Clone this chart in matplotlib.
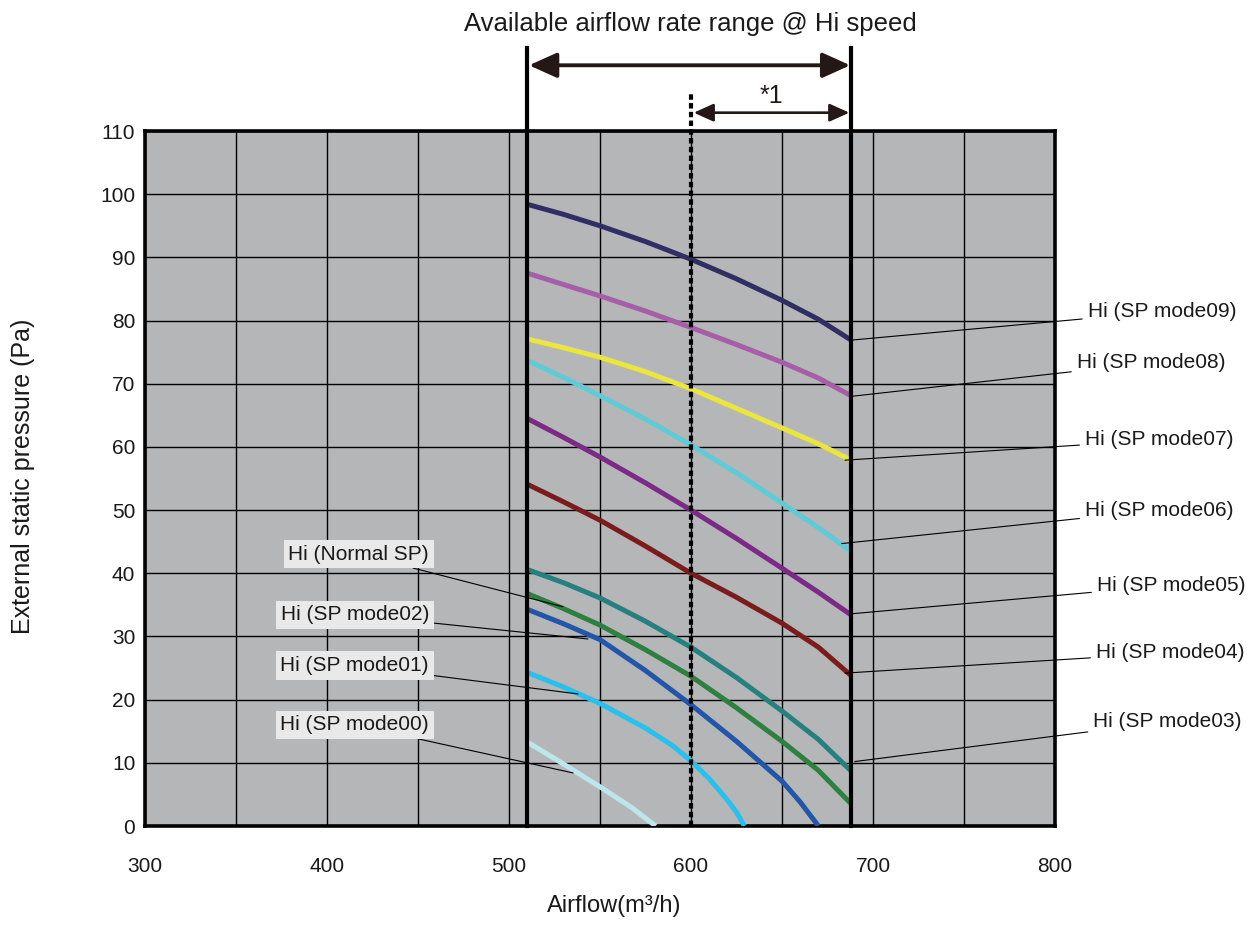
import matplotlib
matplotlib.use("Agg")
import matplotlib.pyplot as plt
from matplotlib.patches import FancyArrowPatch

plt.rcParams['font.family'] = ['Liberation Sans', 'DejaVu Sans']

# ---------------- data ----------------
x_ticks = [300, 400, 500, 600, 700, 800]
y_ticks = [0, 10, 20, 30, 40, 50, 60, 70, 80, 90, 100, 110]

range_min = 510
range_max = 688
range_mid = 600

x_full = [510, 530, 550, 575, 600, 625, 650, 670, 688]

y_mode09 = [98.4, 96.8, 95.0, 92.5, 89.7, 86.6, 83.2, 80.2, 76.9]
y_mode08 = [87.5, 85.7, 83.9, 81.5, 78.9, 76.2, 73.4, 70.9, 68.1]
y_mode07 = [77.1, 75.7, 74.2, 71.9, 69.2, 66.1, 63.0, 60.5, 57.9]
y_mode06 = [73.7, 71.0, 68.1, 64.4, 60.3, 55.9, 51.1, 47.2, 43.5]
y_mode05 = [64.5, 61.5, 58.4, 54.3, 50.0, 45.5, 40.8, 37.0, 33.4]
y_mode04 = [54.1, 51.3, 48.4, 44.3, 40.0, 36.2, 32.1, 28.3, 23.8]
y_mode03 = [40.6, 38.5, 36.1, 32.4, 28.3, 23.5, 18.2, 13.7, 8.7]
y_normal = [36.8, 34.4, 31.8, 27.9, 23.7, 18.7, 13.4, 8.8, 3.5]

x_mode02 = [510, 530, 550, 575, 600, 625, 650, 660, 670]
y_mode02 = [34.3, 32.0, 29.5, 24.6, 19.2, 13.4, 7.1, 3.8, 0.0]

x_mode01 = [510, 530, 550, 575, 590, 600, 610, 620, 625, 629.3]
y_mode01 = [24.3, 22.0, 19.4, 15.5, 12.7, 10.3, 7.5, 4.1, 2.2, 0.0]

x_mode00 = [510, 530, 550, 567, 580.6]
y_mode00 = [13.3, 9.8, 6.2, 3.0, 0.0]

series = [
    ("Hi (SP mode09)", x_full, y_mode09, "#2f2f63"),
    ("Hi (SP mode08)", x_full, y_mode08, "#a65ea8"),
    ("Hi (SP mode07)", x_full, y_mode07, "#ebe540"),
    ("Hi (SP mode06)", x_full, y_mode06, "#5ecbd6"),
    ("Hi (SP mode05)", x_full, y_mode05, "#7b2a85"),
    ("Hi (SP mode04)", x_full, y_mode04, "#7a1c1c"),
    ("Hi (SP mode03)", x_full, y_mode03, "#268080"),
    ("Hi (Normal SP)", x_full, y_normal, "#2e8040"),
    ("Hi (SP mode02)", x_mode02, y_mode02, "#2256a8"),
    ("Hi (SP mode01)", x_mode01, y_mode01, "#28c0ec"),
    ("Hi (SP mode00)", x_mode00, y_mode00, "#bde6ec"),
]

# label anchor (point on curve) and text position
right_labels = {
    "Hi (SP mode09)": ((688, 76.9), (818, 81.4)),
    "Hi (SP mode08)": ((688, 68.0), (812, 73.3)),
    "Hi (SP mode07)": ((684.6, 57.9), (816.5, 61.1)),
    "Hi (SP mode06)": ((682.8, 44.7), (816.5, 50.0)),
    "Hi (SP mode05)": ((688.6, 33.6), (823, 38.1)),
    "Hi (SP mode04)": ((684.6, 24.2), (822.5, 27.4)),
    "Hi (SP mode03)": ((690, 10.2), (821, 16.5)),
}
left_labels = {
    "Hi (Normal SP)": ((529.7, 34.7), (456, 43.05)),
    "Hi (SP mode02)": ((543.4, 29.6), (456, 33.4)),
    "Hi (SP mode01)": ((537.9, 20.9), (456, 25.4)),
    "Hi (SP mode00)": ((535.2, 8.4), (456, 16.0)),
}

# ---------------- figure ----------------
fig = plt.figure(figsize=(12.47, 9.43), dpi=100)
ax = fig.add_axes([145/1247, 1-826/943, 910/1247, 695/943])
ax.set_facecolor("#b5b6b8")
ax.set_xlim(300, 800)
ax.set_ylim(0, 110)

ax.grid(True, color="black", linewidth=1.0)
ax.set_axisbelow(True)
xt = list(range(300, 801, 50))
ax.set_xticks(xt)
ax.set_xticklabels([str(v) if v in x_ticks else "" for v in xt])
ax.set_yticks(y_ticks)
ax.set_yticklabels([str(v) for v in y_ticks])
ax.tick_params(axis="both", length=0, labelsize=15, colors="#1a1a1a")
ax.tick_params(axis="x", pad=22)
ax.tick_params(axis="y", pad=7)
for s in ax.spines.values():
    s.set_linewidth(2.6)
    s.set_color("black")

ax.set_xlabel("Airflow(m³/h)", fontsize=17, color="#1a1a1a")
ax.xaxis.set_label_coords((614 - 145) / 910, (826 - 895) / 695)
ax.set_ylabel("External static pressure (Pa)", fontsize=18, color="#1a1a1a")
ax.yaxis.set_label_coords((35 - 145) / 910, (826 - 476) / 695)

for name, xs, ys, col in series:
    ax.plot(xs, ys, color=col, linewidth=3.6, solid_capstyle="butt",
            solid_joinstyle="round", zorder=3)

# range lines
ax.plot([range_min, range_min], [0, 123.2], color="black", lw=3.0, clip_on=False, zorder=4)
ax.plot([range_max, range_max], [0, 123.2], color="black", lw=3.0, clip_on=False, zorder=4)
ax.plot([range_mid, range_mid], [0, 115.8], color="black", lw=3.0, clip_on=False, zorder=4,
        linestyle=(0, (1.3, 0.8)))

arr_col = "#231815"
a1 = FancyArrowPatch((range_min + 1, 120.4), (range_max - 0.5, 120.4),
                     arrowstyle="<|-|>,head_length=1.0,head_width=0.45",
                     mutation_scale=17, color=arr_col, lw=2.8, shrinkA=0, shrinkB=0,
                     clip_on=False, zorder=5)
ax.add_patch(a1)
a2 = FancyArrowPatch((range_mid + 1.5, 112.9), (range_max - 1, 112.9),
                     arrowstyle="<|-|>,head_length=1.0,head_width=0.45",
                     mutation_scale=12, color=arr_col, lw=1.9, shrinkA=0, shrinkB=0,
                     clip_on=False, zorder=5)
ax.add_patch(a2)
ax.text(644, 115.6, "*1", fontsize=18, ha="center", va="center", color=arr_col)
fig.text(690/1247, 1-24/943, "Available airflow rate range @ Hi speed",
         fontsize=18.5, ha="center", va="center", color="#1a1a1a")

for name, (pt, tp) in right_labels.items():
    ax.annotate(name, xy=pt, xytext=tp, fontsize=15, ha="left", va="center",
                color="#1a1a1a", annotation_clip=False,
                arrowprops=dict(arrowstyle="-", color="black", lw=0.8,
                                shrinkA=2, shrinkB=0))

for name, (pt, tp) in left_labels.items():
    ax.annotate(name, xy=pt, xytext=tp, fontsize=15, ha="right", va="center",
                color="#1a1a1a", annotation_clip=False, zorder=6,
                bbox=dict(boxstyle="square,pad=0.22", fc="#e9e9e9", ec="none"),
                arrowprops=dict(arrowstyle="-", color="black", lw=0.8,
                                shrinkA=0, shrinkB=0))

fig.savefig("out.png", dpi=100)
